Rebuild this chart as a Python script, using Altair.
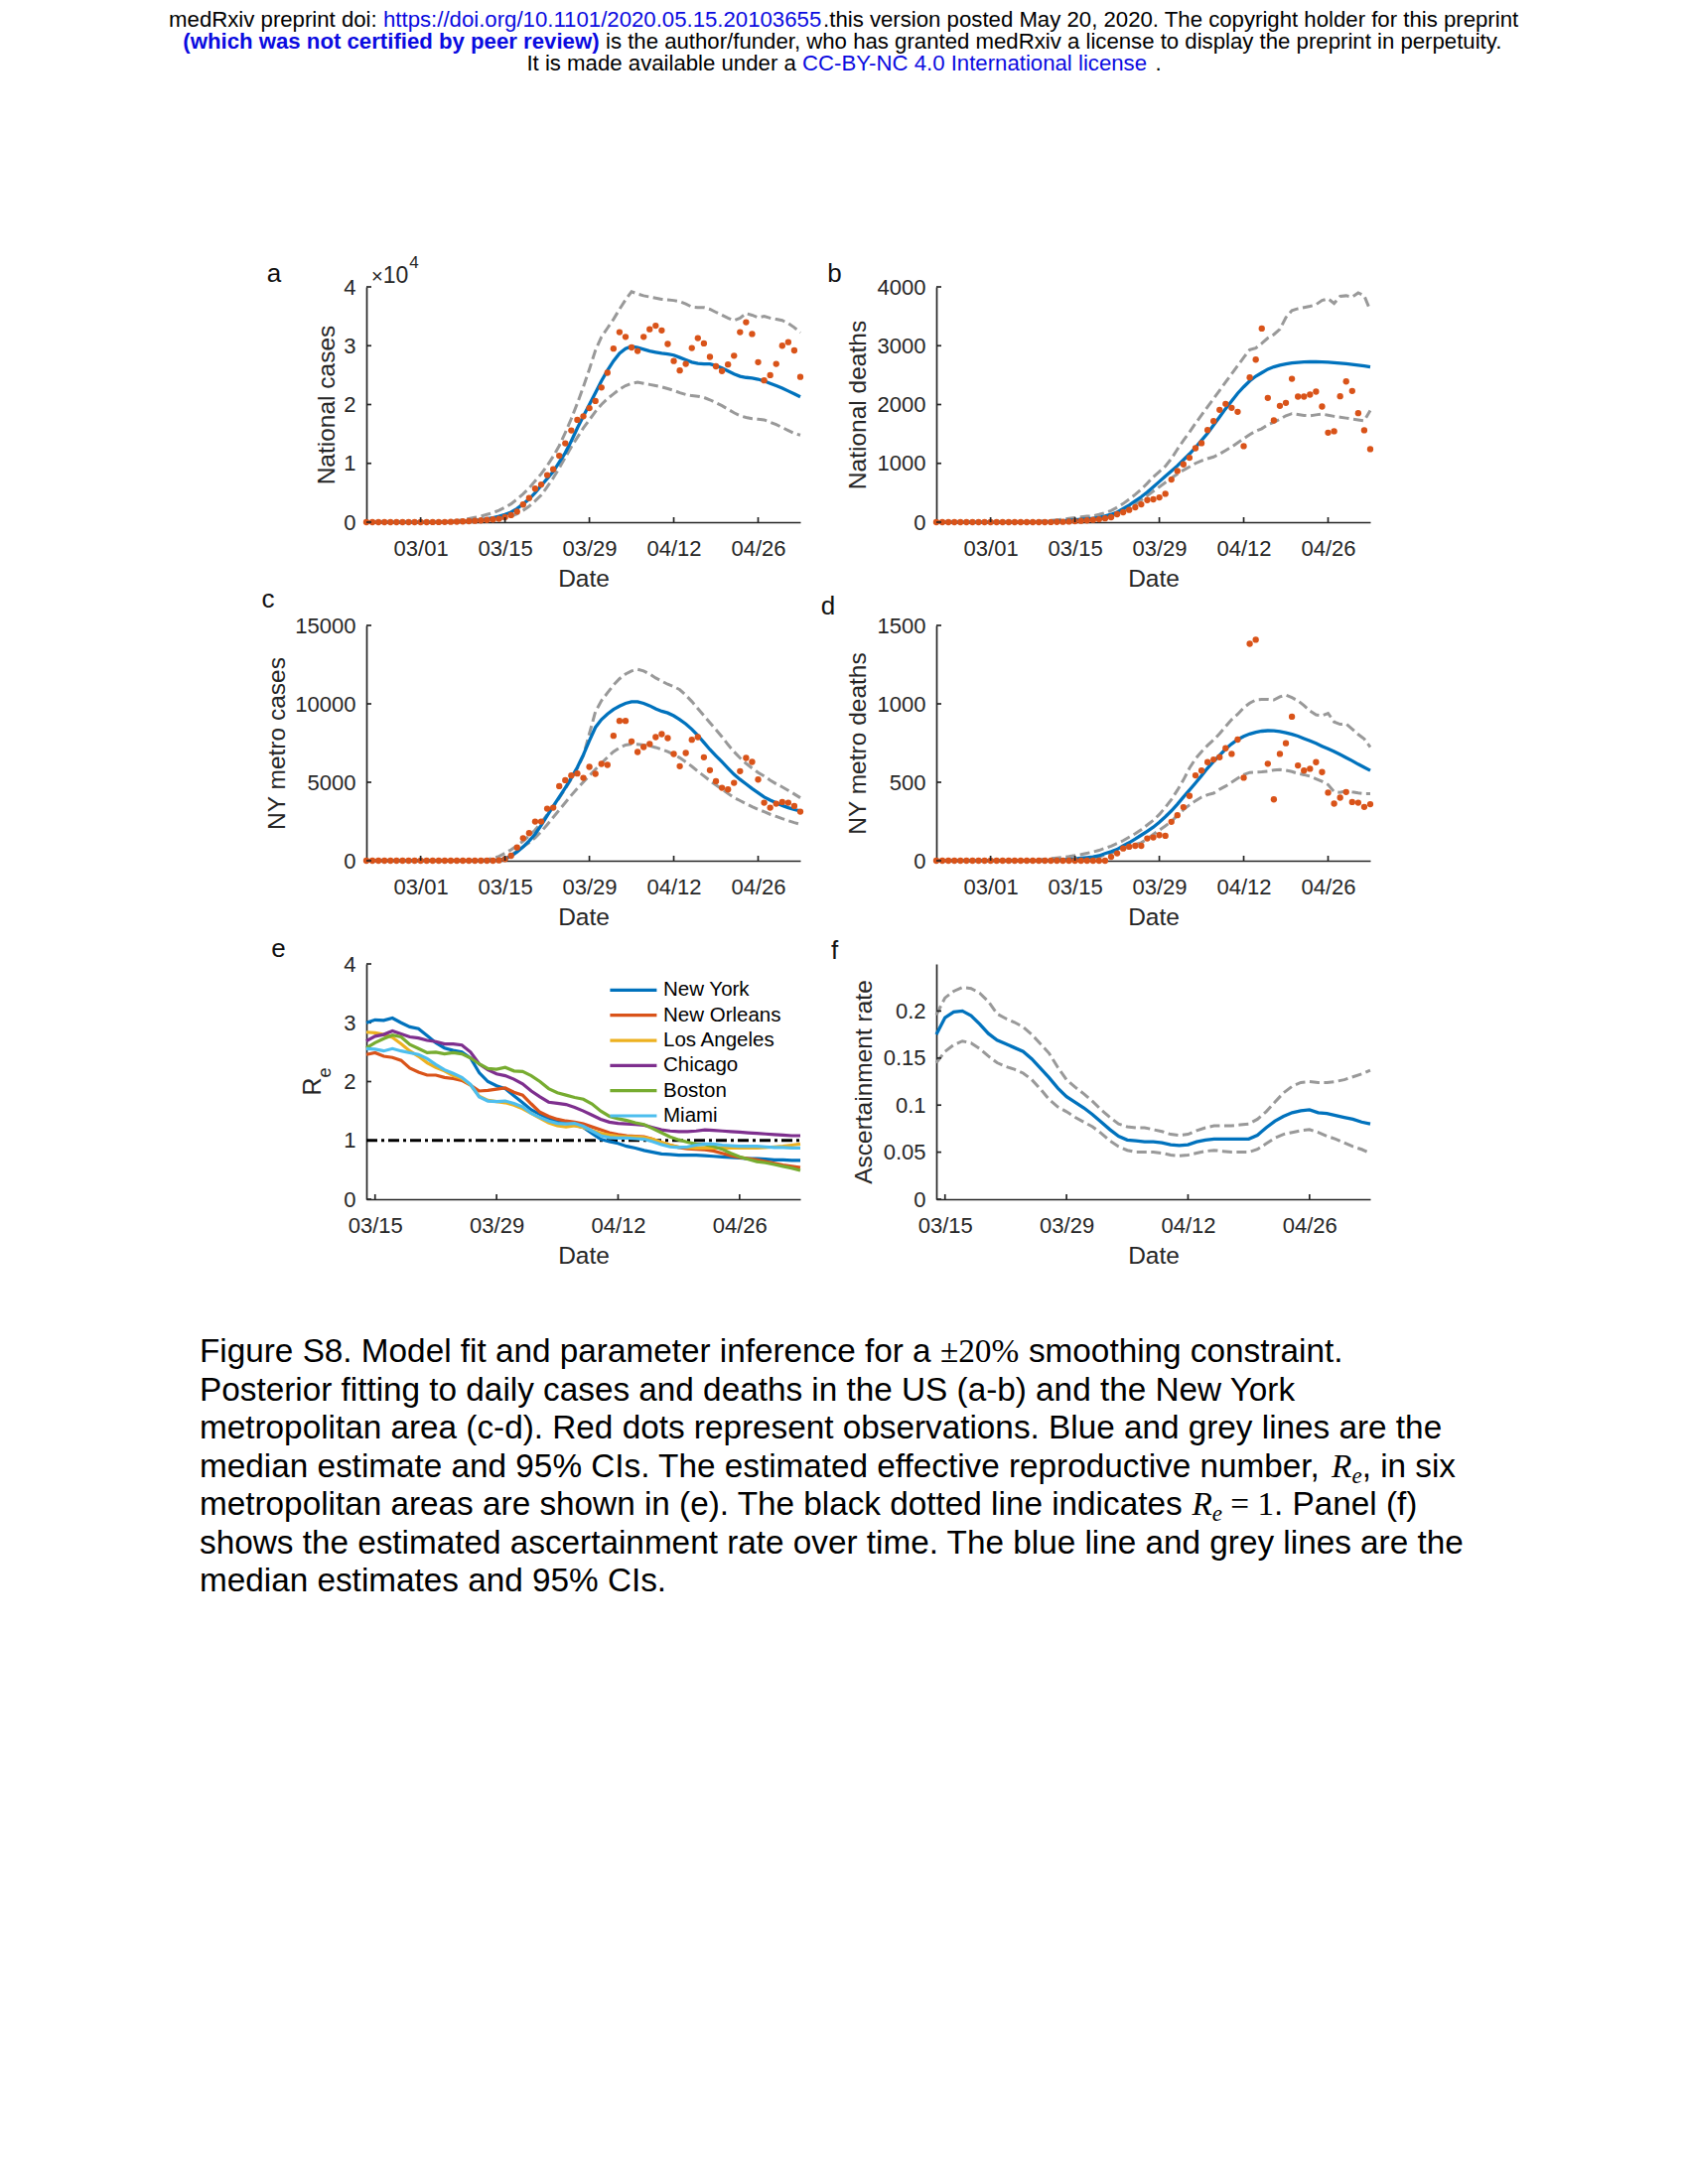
import altair as alt
import pandas as pd

# ---------------- data ----------------
DATES_AD = pd.date_range("2020-02-21", "2020-05-03", freq="D").strftime("%Y-%m-%d").tolist()
DATES_EF = pd.date_range("2020-03-14", "2020-05-03", freq="D").strftime("%Y-%m-%d").tolist()
TICKS_AD = ["2020-03-01", "2020-03-15", "2020-03-29", "2020-04-12", "2020-04-26"]
TICKS_EF = ["2020-03-15", "2020-03-29", "2020-04-12", "2020-04-26"]

A_OBS = [0, 0, 0, 0, 0, 0, 0, 0, 0, 0, 0,
         10, 20, 30, 60, 90, 130, 170, 230, 300, 380, 470, 580,
         850, 1200, 1800, 3000, 4100, 5700, 6400, 8000, 9000, 11300,
         13400, 15600, 17400, 18000, 19400, 20600, 22900, 25400, 29500, 32300,
         31500, 29700, 29100, 31500, 32800, 33400, 32600, 30300, 27400, 25800,
         26900, 29600, 31300, 30400, 28100, 26500, 25700, 26800, 28300, 32300,
         34000, 32000, 27200, 24100, 25000, 26900, 30000, 30600, 29200, 24700]
A_MED = [0, 0, 0, 0, 0, 0, 0, 0, 0, 0, 0,
         10, 20, 40, 60, 100, 150, 220, 300, 400, 550, 750, 1000,
         1300, 1700, 2300, 3100, 3900, 5000, 6200, 7400, 8600, 10200,
         11800, 13800, 16000, 18000, 20000, 22000, 24000, 25800, 27400, 28700,
         29500, 29900, 29700, 29400, 29100, 28900, 28700, 28600, 28400, 28000,
         27600, 27200, 27000, 26900, 26900, 26600, 26200, 25700, 25200, 24800,
         24600, 24500, 24300, 24000, 23600, 23200, 22800, 22300, 21800, 21300]
A_HI = [0, 0, 0, 0, 0, 0, 0, 0, 0, 0, 0,
        20, 40, 80, 150, 250, 400, 600, 800, 1000, 1300, 1600, 2000,
        2500, 3100, 3900, 4800, 5800, 7000, 8200, 9600, 11200, 13000,
        15200, 17600, 20200, 23000, 26000, 29200, 31500, 33000, 34500, 36200,
        37800, 39200, 38800, 38500, 38300, 38100, 37900, 37800, 37700, 37500,
        37100, 36600, 36500, 36500, 36200, 35700, 35200, 34700, 34300, 34700,
        35500, 35200, 34800, 35000, 34700, 34500, 34300, 33800, 33100, 32200]
A_LO = [0, 0, 0, 0, 0, 0, 0, 0, 0, 0, 0,
        0, 0, 0, 0, 0, 50, 100, 150, 200, 300, 400, 500,
        700, 1000, 1400, 2000, 2700, 3600, 4600, 6000, 7500, 9200,
        11000, 12800, 14400, 16000, 17400, 18800, 20000, 21000, 21800, 22600,
        23200, 23600, 23800, 23600, 23400, 23200, 23000, 22700, 22400, 22000,
        21700, 21500, 21400, 21200, 20800, 20300, 19800, 19200, 18600, 18100,
        17800, 17600, 17500, 17400, 17000, 16600, 16100, 15600, 15100, 14800]

B_OBS = [0, 0, 0, 0, 0, 0, 0, 0, 0, 0, 0, 0, 0, 0, 0, 0, 0, 0, 0,
         2, 4, 6, 10, 15, 22, 30, 40, 50, 65,
         84, 135, 169, 208, 253, 303, 376, 388, 421, 483,
         725, 871, 983, 1096, 1258, 1343, 1567, 1719, 1910, 2011,
         1944, 1876, 1292, 2461, 2764, 3292, 2112, 1730, 1978, 2028,
         2438, 2135, 2135, 2169, 2219, 1966, 1522, 1545, 2140, 2393,
         2230, 1854, 1562, 1242]
B_MED = [0, 0, 0, 0, 0, 0, 0, 0, 0, 0, 0, 0, 0, 0, 0, 0,
         3, 5, 8, 12, 17, 23, 30, 38, 47, 57,
         65, 80, 105, 132, 170, 230, 290, 360, 430, 510,
         600, 690, 780, 870, 960, 1060, 1160, 1270, 1390, 1510,
         1650, 1790, 1930, 2060, 2190, 2300, 2400, 2480, 2540, 2600,
         2640, 2670, 2690, 2705, 2715, 2722, 2726, 2727, 2725, 2720,
         2712, 2703, 2693, 2682, 2670, 2656, 2640]
B_HI = [0, 0, 0, 0, 0, 0, 0, 0, 0, 0, 0, 0, 0, 0,
        2, 5, 10, 15, 22, 30, 40, 50, 62, 75, 88, 100,
        105, 130, 160, 195, 250, 315, 390, 470, 560, 660,
        770, 860, 950, 1080, 1240, 1390, 1530, 1680, 1820, 1960,
        2100, 2240, 2380, 2520, 2660, 2800, 2930, 2960, 3040, 3130,
        3190, 3280, 3480, 3600, 3630, 3650, 3670, 3700, 3770, 3800,
        3720, 3840, 3850, 3830, 3900, 3850, 3600]
B_LO = [0, 0, 0, 0, 0, 0, 0, 0, 0, 0, 0, 0, 0, 0, 0, 0, 0, 0,
        3, 5, 8, 12, 17, 23, 30, 40, 50, 60,
        70, 100, 140, 185, 240, 305, 375, 450, 528, 600,
        675, 750, 820, 885, 940, 1000, 1045, 1080, 1110, 1160,
        1220, 1280, 1350, 1420, 1490, 1550, 1590, 1660, 1700, 1750,
        1810, 1845, 1830, 1815, 1810, 1825, 1837, 1820, 1800, 1785,
        1770, 1753, 1740, 1725, 1900]

C_OBS = [0, 0, 0, 0, 0, 0, 0, 0, 0, 0, 0, 0, 0, 0, 0, 0, 0, 0, 0, 0, 0, 0,
         20, 106, 317, 845, 1437, 1754, 2493, 2493, 3317, 3380,
         4754, 5134, 5430, 5557, 5282, 5979, 5536, 6170, 6106, 7966,
         8916, 8916, 7606, 6930, 7247, 7437, 7881, 8071, 7818, 6803,
         6022, 6867, 7712, 7881, 6592, 5768, 5071, 4648, 4543, 4965,
         5705, 6550, 6296, 5176, 3697, 3380, 3634, 3740, 3697, 3486, 3127]
C_MED = [0, 0, 0, 0, 0, 0, 0, 0, 0, 0, 0, 0, 0, 0, 0, 0, 0, 0, 0, 0, 0,
         10, 40, 120, 300, 560, 880, 1260, 1690, 2250, 2870,
         3470, 4060, 4650, 5280, 5950, 6750, 7650, 8500, 9000, 9350,
         9640, 9860, 10030, 10130, 10130, 10030, 9880, 9680, 9530, 9420,
         9240, 9000, 8720, 8380, 7990, 7540, 7090, 6690, 6300, 5900,
         5500, 5180, 4890, 4600, 4330, 4060, 3860, 3680, 3520, 3380, 3260, 3170]
C_HI = [0, 0, 0, 0, 0, 0, 0, 0, 0, 0, 0, 0, 0, 0, 0, 0, 0, 0, 0,
        30, 80, 150, 280, 480, 700, 960, 1250, 1580, 1960,
        2420, 2930, 3460, 4000, 4590, 5200, 5900, 6700, 8100, 9500,
        10200, 10700, 11200, 11600, 11900, 12100, 12200, 12100, 11900, 11650,
        11450, 11250, 11100, 10900, 10550, 10150, 9700, 9250, 8800, 8350,
        7900, 7400, 6950, 6550, 6200, 5900, 5620, 5390, 5130, 4900,
        4700, 4480, 4250, 4010]
C_LO = [0, 0, 0, 0, 0, 0, 0, 0, 0, 0, 0, 0, 0, 0, 0, 0, 0, 0, 0, 0, 0, 0,
        30, 150, 370, 620, 880, 1150, 1470, 1850, 2300, 2770,
        3230, 3700, 4170, 4600, 5020, 5420, 5820, 6220, 6590, 6950,
        7200, 7380, 7440, 7420, 7380, 7320, 7220, 7090, 6950, 6780,
        6560, 6300, 6010, 5700, 5400, 5100, 4820, 4560, 4280, 4020,
        3830, 3630, 3440, 3270, 3120, 2960, 2820, 2680, 2550, 2430, 2320]

D_OBS = [0, 0, 0, 0, 0, 0, 0, 0, 0, 0, 0, 0, 0, 0, 0, 0, 0, 0, 0, 0,
         0, 0, 0, 0, 0, 0, 0, 0, 0,
         25, 47, 78, 89, 95, 95, 142, 148, 163, 159,
         248, 290, 341, 413, 544, 575, 628, 645, 660, 717,
         681, 772, 529, 1383, 1409, None, 618, 391, 681, 749,
         918, 607, 575, 586, 628, 565, 434, 364, 402, 438,
         374, 370, 343, 360]
D_MED = [0, 0, 0, 0, 0, 0, 0, 0, 0, 0, 0, 0, 0, 0, 0, 0, 0, 0, 0,
         2, 4, 6, 9, 12, 16, 20, 24, 32, 46,
         58, 72, 96, 115, 138, 163, 188, 214, 245, 280,
         318, 360, 406, 450, 495, 542, 590, 632, 672, 712,
         745, 772, 793, 808, 819, 826, 829, 828, 824, 816,
         806, 794, 779, 764, 748, 730, 713, 696, 677, 657,
         637, 615, 595, 575]
D_HI = [0, 0, 0, 0, 0, 0, 0, 0, 0, 0, 0, 0, 0, 0, 0, 0,
        3, 6, 10, 14, 18, 22, 27, 33, 40, 48,
        56, 66, 80, 93, 110, 128, 150, 172, 198, 228,
        258, 295, 340, 390, 450, 515, 590, 650, 695, 735,
        770, 810, 855, 900, 934, 975, 1005, 1025, 1028, 1029,
        1025, 1045, 1056, 1040, 1020, 990, 955, 930, 925, 940,
        885, 870, 872, 840, 805, 776, 724]
D_LO = [0, 0, 0, 0, 0, 0, 0, 0, 0, 0, 0, 0, 0, 0, 0, 0, 0, 0, 0, 0, 0,
        2, 4, 7, 10, 14, 18, 24, 38, 48, 60,
        75, 92, 105, 115, 140, 168, 195, 222, 250, 290,
        325, 355, 382, 405, 420, 430, 455, 475, 500, 525,
        548, 562, 565, 566, 570, 578, 581, 576, 568, 556,
        548, 538, 522, 505, 485, 440, 435, 445, 438, 432,
        427, 427]

CITIES = ["New York", "New Orleans", "Los Angeles", "Chicago", "Boston", "Miami"]
CITY_COLORS = ["#0072BD", "#D95319", "#EDB120", "#7E2F8E", "#77AC30", "#4DBEEE"]
E_NY = [3.0, 3.05, 3.04, 3.08, 3.0, 2.93, 2.9, 2.78, 2.66, 2.57, 2.53, 2.5, 2.4, 2.15, 2.0, 1.93, 1.88,
        1.76, 1.64, 1.52, 1.44, 1.37, 1.33, 1.29, 1.26, 1.22, 1.12, 1.02, 0.98, 0.95, 0.9, 0.87, 0.83,
        0.8, 0.77, 0.76, 0.75, 0.75, 0.75, 0.74, 0.73, 0.72, 0.71, 0.7, 0.69, 0.69, 0.68, 0.67, 0.67, 0.66, 0.66]
E_NO = [2.46, 2.49, 2.43, 2.41, 2.36, 2.23, 2.16, 2.11, 2.11, 2.07, 2.05, 2.02, 1.94, 1.84, 1.85, 1.87, 1.89,
        1.82, 1.77, 1.62, 1.48, 1.41, 1.36, 1.33, 1.31, 1.28, 1.23, 1.18, 1.13, 1.1, 1.08, 1.07, 1.06,
        1.02, 0.96, 0.92, 0.88, 0.86, 0.85, 0.84, 0.82, 0.78, 0.74, 0.71, 0.69, 0.67, 0.64, 0.61, 0.58, 0.56, 0.54]
E_LA = [2.84, 2.83, 2.8, 2.75, 2.64, 2.52, 2.43, 2.32, 2.24, 2.18, 2.1, 2.05, 1.94, 1.75, 1.68, 1.66, 1.64,
        1.6, 1.54, 1.46, 1.38, 1.3, 1.25, 1.23, 1.25, 1.22, 1.17, 1.12, 1.09, 1.07, 1.06, 1.06, 1.05,
        1.02, 0.97, 0.92, 0.89, 0.88, 0.87, 0.87, 0.87, 0.87, 0.87, 0.87, 0.87, 0.87, 0.88, 0.89, 0.9, 0.92, 0.94]
E_CHI = [2.69, 2.77, 2.8, 2.86, 2.81, 2.76, 2.74, 2.7, 2.68, 2.64, 2.64, 2.62, 2.5, 2.3, 2.2, 2.13, 2.1,
         2.04, 1.96, 1.84, 1.74, 1.65, 1.63, 1.61, 1.56, 1.5, 1.43, 1.36, 1.31, 1.29, 1.28, 1.27, 1.26,
         1.22, 1.18, 1.16, 1.15, 1.15, 1.16, 1.18, 1.17, 1.16, 1.15, 1.14, 1.13, 1.12, 1.11, 1.1, 1.09, 1.08, 1.08]
E_BOS = [2.57, 2.66, 2.73, 2.79, 2.76, 2.63, 2.56, 2.49, 2.5, 2.47, 2.49, 2.47, 2.4, 2.3, 2.22, 2.21, 2.24,
         2.18, 2.17, 2.1, 2.0, 1.88, 1.81, 1.77, 1.73, 1.7, 1.62, 1.5, 1.41, 1.37, 1.34, 1.3, 1.27,
         1.2, 1.13, 1.06, 1.01, 0.97, 0.94, 0.93, 0.9, 0.85, 0.78, 0.72, 0.68, 0.64, 0.62, 0.59, 0.56, 0.53, 0.49]
E_MIA = [2.56, 2.55, 2.52, 2.56, 2.52, 2.49, 2.46, 2.39, 2.29, 2.2, 2.14, 2.07, 1.95, 1.74, 1.67, 1.66, 1.67,
         1.63, 1.57, 1.46, 1.39, 1.33, 1.29, 1.28, 1.29, 1.24, 1.16, 1.08, 1.05, 1.04, 1.04, 1.03, 1.02,
         0.98, 0.93, 0.89, 0.88, 0.89, 0.92, 0.94, 0.94, 0.92, 0.91, 0.9, 0.9, 0.9, 0.89, 0.88, 0.88, 0.87, 0.87]
E_SERIES = [E_NY, E_NO, E_LA, E_CHI, E_BOS, E_MIA]

F_MED = [0.175, 0.193, 0.199, 0.2, 0.195, 0.186, 0.176, 0.169, 0.165, 0.161, 0.157, 0.149, 0.139, 0.129,
         0.118, 0.109, 0.103, 0.097, 0.09, 0.082, 0.074, 0.067, 0.063, 0.062, 0.061, 0.061, 0.06, 0.058,
         0.057, 0.058, 0.061, 0.063, 0.064, 0.064, 0.064, 0.064, 0.064, 0.068, 0.076, 0.083, 0.088, 0.092,
         0.094, 0.095, 0.092, 0.091, 0.089, 0.087, 0.085, 0.082, 0.08]
F_HI = [0.196, 0.214, 0.221, 0.225, 0.224, 0.219, 0.21, 0.197, 0.192, 0.188, 0.183, 0.175, 0.165, 0.155,
        0.14, 0.127, 0.119, 0.112, 0.104, 0.095, 0.087, 0.08, 0.077, 0.076, 0.076, 0.074, 0.072, 0.069,
        0.068, 0.069, 0.073, 0.076, 0.078, 0.078, 0.078, 0.079, 0.08, 0.085, 0.093, 0.103, 0.113, 0.12,
        0.124, 0.125, 0.124, 0.124, 0.125, 0.127, 0.13, 0.133, 0.137]
F_LO = [0.145, 0.157, 0.164, 0.168, 0.166, 0.16, 0.152, 0.145, 0.141, 0.138, 0.134, 0.127, 0.117, 0.106,
        0.098, 0.093, 0.087, 0.082, 0.077, 0.07, 0.062, 0.056, 0.052, 0.05, 0.05, 0.05, 0.049, 0.047,
        0.046, 0.047, 0.049, 0.051, 0.052, 0.051, 0.05, 0.05, 0.05, 0.053, 0.059, 0.065, 0.069, 0.071,
        0.073, 0.074, 0.071, 0.067, 0.064, 0.06, 0.056, 0.053, 0.049]

for arr in [A_OBS, A_MED, A_HI, A_LO, B_OBS, B_MED, B_HI, B_LO, C_OBS, C_MED, C_HI, C_LO,
            D_OBS, D_MED, D_HI, D_LO]:
    assert len(arr) == len(DATES_AD), len(arr)
for arr in E_SERIES + [F_MED, F_HI, F_LO]:
    assert len(arr) == len(DATES_EF), len(arr)

# ---------------- style / layout ----------------
W, H = 437, 237
AX = "#262626"
BLUE = "#0072BD"
RED = "#D95319"
GREY = "#999999"
FONT = "Liberation Sans"
SERIF = "Liberation Serif"
LINKBLUE = "#0b0be0"

HELV = {' ': 278, '!': 278, '"': 355, '#': 556, '$': 556, '%': 889, '&': 667, "'": 191, '(': 333, ')': 333,
        '*': 389, '+': 584, ',': 278, '-': 333, '.': 278, '/': 278, ':': 278, ';': 278, '=': 584, '?': 556,
        '×': 584, '_': 556,
        'A': 667, 'B': 667, 'C': 722, 'D': 722, 'E': 667, 'F': 611, 'G': 778, 'H': 722, 'I': 278, 'J': 500,
        'K': 667, 'L': 556, 'M': 833, 'N': 722, 'O': 778, 'P': 667, 'Q': 778, 'R': 722, 'S': 667, 'T': 611,
        'U': 722, 'V': 667, 'W': 944, 'X': 667, 'Y': 667, 'Z': 611,
        'a': 556, 'b': 556, 'c': 500, 'd': 556, 'e': 556, 'f': 278, 'g': 556, 'h': 556, 'i': 222, 'j': 222,
        'k': 500, 'l': 222, 'm': 833, 'n': 556, 'o': 556, 'p': 556, 'q': 556, 'r': 333, 's': 500, 't': 278,
        'u': 556, 'v': 500, 'w': 722, 'x': 500, 'y': 500, 'z': 500}
HELV_B = {' ': 278, '(': 333, ')': 333, 'a': 556, 'b': 611, 'c': 556, 'd': 611, 'e': 556, 'f': 333,
          'h': 611, 'i': 278, 'n': 611, 'o': 611, 'p': 611, 'r': 389, 's': 556, 't': 333, 'v': 556,
          'w': 778, 'y': 556}
TIMES = {'±': 564, '2': 500, '0': 500, '%': 833, '=': 564, '1': 500, ' ': 250}
TIMES_I = {'R': 611, 'e': 444}


def tw(s, table, size):
    return sum(table.get(ch, 556) for ch in s) * size / 1000.0


def text_layer(txt, x, y, size, color="#000000", font=FONT, weight="normal", style="normal",
               align="left", baseline="alphabetic", angle=0):
    return alt.Chart(alt.Data(values=[{"k": 0}])).mark_text(
        text=txt, align=align, baseline=baseline, fontSize=size, font=font,
        fontWeight=weight, fontStyle=style, color=color, angle=angle
    ).encode(x=alt.value(x), y=alt.value(y))


def place_line(segs, x0, y, out):
    x = x0
    for txt, table, size, font, weight, style, color, dy in segs:
        lead = len(txt) - len(txt.lstrip(' '))
        s = txt.strip(' ')
        if s:
            out.append(text_layer(s, x + tw(' ' * lead, table, size), y + dy, size, color, font, weight, style))
        x += tw(txt, table, size)


def line_width(segs):
    return sum(tw(s[0], s[1], s[2]) for s in segs)


def dt(s):
    y, m, d = map(int, s.split("-"))
    return alt.DateTime(year=y, month=m, date=d, utc=True)


def xenc(start, end, ticks):
    return alt.X("date:T",
                 scale=alt.Scale(type="utc", domain=[dt(start), dt(end)], nice=False),
                 axis=alt.Axis(values=[dt(t) for t in ticks],
                               labelExpr="utcFormat(datum.value, '%m/%d')",
                               title="Date", titleX=W / 2, titleY=64, titleBaseline="alphabetic",
                               titleAlign="center", labelFlush=False, labelOverlap=False))


def yenc(dmax, ticks, title, tx, fmt=None, expr=None):
    kw = dict(values=ticks, labelFlush=False, labelOverlap=False)
    if title is None:
        kw["title"] = None
    else:
        kw.update(title=title, titleX=tx, titleY=H / 2, titleAngle=270, titleBaseline="alphabetic",
                  titleAlign="center")
    if fmt:
        kw["format"] = fmt
    if expr:
        kw["labelExpr"] = expr
    return alt.Y("v:Q", scale=alt.Scale(domain=[0, dmax], nice=False, zero=True), axis=alt.Axis(**kw))


def tick_layers(X, Y, xticks, yticks):
    xt = alt.Chart(pd.DataFrame({"date": xticks})).mark_rule(color=AX, strokeWidth=1.7).encode(
        x=X, y=alt.value(H), y2=alt.value(H - 5))
    yt = alt.Chart(pd.DataFrame({"v": yticks})).mark_rule(color=AX, strokeWidth=1.7).encode(
        y=Y, x=alt.value(0), x2=alt.value(5))
    return [xt, yt]


def band_layers(dates, med, lo, hi, X, Y):
    def df(v):
        return pd.DataFrame({"date": dates, "v": v})
    lo_l = alt.Chart(df(lo)).mark_line(color=GREY, strokeWidth=3, strokeDash=[10, 4.5]).encode(x=X, y=Y)
    hi_l = alt.Chart(df(hi)).mark_line(color=GREY, strokeWidth=3, strokeDash=[10, 4.5]).encode(x=X, y=Y)
    med_l = alt.Chart(df(med)).mark_line(color=BLUE, strokeWidth=3.3).encode(x=X, y=Y)
    return [lo_l, hi_l, med_l]


def fit_panel(obs, med, lo, hi, dmax, yticks, ytitle, tx, letter, lx, ly, fmt=None, expr=None, extra=()):
    X = xenc("2020-02-21", "2020-05-03", TICKS_AD)
    Y = yenc(dmax, yticks, ytitle, tx, fmt, expr)
    layers = band_layers(DATES_AD, med, lo, hi, X, Y)
    dots = alt.Chart(pd.DataFrame({"date": DATES_AD, "v": obs})).mark_circle(
        color=RED, size=40, opacity=1).encode(x=X, y=Y)
    layers.append(dots)
    layers += tick_layers(X, Y, TICKS_AD, yticks)
    layers.append(text_layer(letter, lx, ly, 26, "#111111", align="center"))
    layers += list(extra)
    return alt.layer(*layers).properties(width=W, height=H)


# ---------------- header / caption (placed relative to panel a) ----------------
OX, OY = 369.0, 288.3      # page position of panel a plot origin
ann = []
ann.append(alt.Chart(alt.Data(values=[{"k": 0}])).mark_rect(color="white").encode(
    x=alt.value(8 - OX), x2=alt.value(9 - OX), y=alt.value(8 - OY), y2=alt.value(9 - OY)))

HS = 22.2
header = [
    [("medRxiv preprint doi: ", HELV, HS, FONT, "normal", "normal", "#000000", 0),
     ("https://doi.org/10.1101/2020.05.15.20103655", HELV, HS, FONT, "normal", "normal", LINKBLUE, 0),
     (".this version posted May 20, 2020. The copyright holder for this preprint", HELV, HS, FONT,
      "normal", "normal", "#000000", 0)],
    [("(which was not certified by peer review)", HELV_B, HS, FONT, "bold", "normal", LINKBLUE, 0),
     (" is the author/funder, who has granted medRxiv a license to display the preprint in perpetuity.",
      HELV, HS, FONT, "normal", "normal", "#000000", 0)],
    [("It is made available under a ", HELV, HS, FONT, "normal", "normal", "#000000", 0),
     ("CC-BY-NC 4.0 International license", HELV, HS, FONT, "normal", "normal", LINKBLUE, 0),
     (" .", HELV, HS, FONT, "normal", "normal", "#000000", 0)],
]
for i, segs in enumerate(header):
    place_line(segs, 850 - OX - line_width(segs) / 2, [26.0, 48.0, 70.0][i] - OY, ann)

CS = 33.3
SUB = 23.0


def sans(t):
    return (t, HELV, CS, FONT, "normal", "normal", "#000000", 0)


def ser(t):
    return (t, TIMES, CS, SERIF, "normal", "normal", "#000000", 0)


R_IT = ("R", TIMES_I, CS, SERIF, "normal", "italic", "#000000", 0)
E_SUB = ("e", TIMES_I, SUB, SERIF, "normal", "italic", "#000000", 6)

caption = [
    [sans("Figure S8. Model fit and parameter inference for a "), ser("±20%"), sans(" smoothing constraint.")],
    [sans("Posterior fitting to daily cases and deaths in the US (a-b) and the New York")],
    [sans("metropolitan area (c-d). Red dots represent observations. Blue and grey lines are the")],
    [sans("median estimate and 95% CIs. The estimated effective reproductive number, "), R_IT, E_SUB,
     sans(", in six")],
    [sans("metropolitan areas are shown in (e). The black dotted line indicates "), R_IT, E_SUB,
     ser(" = 1"), sans(". Panel (f)")],
    [sans("shows the estimated ascertainment rate over time. The blue line and grey lines are the")],
    [sans("median estimates and 95% CIs.")],
]
for i, segs in enumerate(caption):
    place_line(segs, 201 - OX, 1371.7 + 38.5 * i - OY, ann)

# x10^4 multiplier
ann.append(text_layer("×", 5, -4, 20, AX))
ann.append(text_layer("10", 5 + tw("×", HELV, 20), -4, 23, AX))
ann.append(text_layer("4", 5 + tw("×", HELV, 20) + tw("10", HELV, 23) + 1, -19.5, 17, AX))

# ---------------- panels ----------------
pa = fit_panel(A_OBS, A_MED, A_LO, A_HI, 40000, [0, 10000, 20000, 30000, 40000], "National cases", -33,
               "a", -93, -5, expr="format(datum.value / 10000, 'd')", extra=ann)
pb = fit_panel(B_OBS, B_MED, B_LO, B_HI, 4000, [0, 1000, 2000, 3000, 4000], "National deaths", -72,
               "b", -102.5, -5, fmt="d")
pc = fit_panel(C_OBS, C_MED, C_LO, C_HI, 15000, [0, 5000, 10000, 15000], "NY metro cases", -83,
               "c", -99, -17.6, fmt="d")
pd_ = fit_panel(D_OBS, D_MED, D_LO, D_HI, 1500, [0, 500, 1000, 1500], "NY metro deaths", -72,
                "d", -109, -11, fmt="d")

# panel e
XE = xenc("2020-03-14", "2020-05-03", TICKS_EF)
YE = yenc(4, [0, 1, 2, 3, 4], None, 0, fmt="d")
e_layers = tick_layers(XE, YE, TICKS_EF, [0, 1, 2, 3, 4])
e_layers.append(alt.Chart(pd.DataFrame({"v": [1]})).mark_rule(
    color="black", strokeWidth=3.2, strokeDash=[11, 4, 3, 4]).encode(y=YE, x=alt.value(0), x2=alt.value(W)))
for vals, col in zip(E_SERIES, CITY_COLORS):
    e_layers.append(alt.Chart(pd.DataFrame({"date": DATES_EF, "v": vals})).mark_line(
        color=col, strokeWidth=3.2).encode(x=XE, y=YE))
inner_e = alt.layer(*e_layers)

leg_df = pd.DataFrame({"city": CITIES})
LY = alt.Y("city:O", scale=alt.Scale(type="point", domain=CITIES, range=[26.4, 153], padding=0), axis=None)
LC = alt.Color("city:N", scale=alt.Scale(domain=CITIES, range=CITY_COLORS), legend=None)
leg_lines = alt.Chart(leg_df).mark_rule(strokeWidth=3.2).encode(
    y=LY, x=alt.value(245.4), x2=alt.value(292.4), color=LC)
leg_text = alt.Chart(leg_df).mark_text(align="left", baseline="middle", fontSize=20.5, font=FONT,
                                       color="#000000").encode(y=LY, x=alt.value(299), text="city:N")
legend_e = alt.layer(leg_lines, leg_text)

pe = alt.layer(
    inner_e, legend_e,
    text_layer("R", -46, 132.5, 25, AX, angle=270),
    text_layer("e", -36, 114.5, 18, AX, angle=270),
    text_layer("e", -88.5, -7, 26, "#111111", align="center"),
).resolve_scale(y="independent").properties(width=W, height=H)

# panel f
XF = xenc("2020-03-14", "2020-05-03", TICKS_EF)
YF = yenc(0.25, [0, 0.05, 0.1, 0.15, 0.2], "Ascertainment rate", -65.5, fmt="~g")
f_layers = band_layers(DATES_EF, F_MED, F_LO, F_HI, XF, YF)
f_layers += tick_layers(XF, YF, TICKS_EF, [0, 0.05, 0.1, 0.15, 0.2])
f_layers.append(text_layer("f", -102.5, -5.3, 26, "#111111", align="center"))
pf = alt.layer(*f_layers).properties(width=W, height=H)

chart = alt.concat(pa, pb, pc, pd_, pe, pf, columns=2,
                   spacing={"row": 104, "column": 137}, bounds="flush").properties(
    padding=0
).configure(font=FONT).configure_view(strokeWidth=0).configure_axis(
    domainColor=AX, domainWidth=1.7, labelColor=AX, labelFont=FONT, labelFontSize=22,
    titleFont=FONT, titleFontSize=24.5, titleFontWeight="normal", titleColor=AX,
    ticks=False, tickSize=0, grid=False
).configure_axisX(labelPadding=16.5).configure_axisY(labelPadding=11)

chart.save("out.html", embed_options={"renderer": "svg", "actions": False})
